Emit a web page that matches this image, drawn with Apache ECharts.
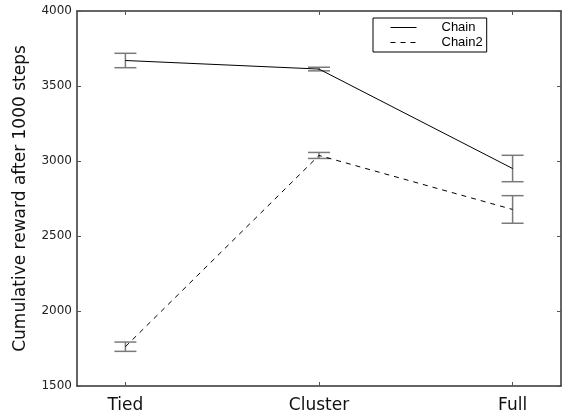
<!DOCTYPE html>
<html lang="en">
<head>
    <meta charset="UTF-8">
    <title>Cumulative reward</title>
    <script src="https://cdn.jsdelivr.net/npm/echarts@6/dist/echarts.min.js"></script>
    <style>
        html, body { margin: 0; padding: 0; background: #fff; }
    </style>
</head>
<body>
<div id="main" style="width: 564px;height:419px;"></div>
<script>
    // data
    var categories = ['Tied', 'Cluster', 'Full'];
    var chainMean = [3670, 3613, 2950];
    var chainErr = [48, 12, 88];
    var chain2Mean = [1762, 3037, 2677];
    var chain2Err = [31, 20, 92];

    var catPos = categories.map(function (c, i) { return i; });

    function pairs(means) {
        return means.map(function (v, i) { return [catPos[i], v]; });
    }
    function errData(means, errs) {
        return means.map(function (v, i) { return [catPos[i], v - errs[i], v + errs[i]]; });
    }

    // error bar drawn through the axes
    function renderErr(params, api) {
        var lo = api.coord([api.value(0), api.value(1)]);
        var hi = api.coord([api.value(0), api.value(2)]);
        var half = 11;
        var style = {stroke: '#7a7a7a', lineWidth: 1.5};
        return {
            type: 'group',
            children: [
                {type: 'line', shape: {x1: lo[0], y1: lo[1], x2: hi[0], y2: hi[1]}, style: style},
                {type: 'line', shape: {x1: lo[0] - half, y1: lo[1], x2: lo[0] + half, y2: lo[1]}, style: style},
                {type: 'line', shape: {x1: hi[0] - half, y1: hi[1], x2: hi[0] + half, y2: hi[1]}, style: style}
            ]
        };
    }

    var axisLine = {show: true, onZero: false, lineStyle: {color: '#333', width: 1.5}};
    var tick = {show: true, inside: true, length: 4, lineStyle: {color: '#555', width: 1}};
    var catTick = {show: true, inside: true, length: 4, customValues: catPos, lineStyle: {color: '#555', width: 1}};

    var myChart = echarts.init(document.getElementById('main'));
    var option = {
        animation: false,
        backgroundColor: '#fff',
        grid: {left: 77, right: 3, top: 11, bottom: 33},
        legend: {
            orient: 'vertical',
            left: 373,
            top: 18,
            padding: [3, 4, 3, 17],
            itemGap: 2,
            itemWidth: 26,
            itemHeight: 12,
            borderColor: '#000',
            borderWidth: 1,
            borderRadius: 0,
            backgroundColor: '#fff',
            data: ['Chain', 'Chain2'],
            itemStyle: {opacity: 0},
            lineStyle: {width: 1},
            textStyle: {fontFamily: 'Liberation Sans', fontSize: 13, color: '#000', padding: [0, 0, 0, 20]}
        },
        xAxis: [
            {
                type: 'value', min: -0.25, max: 2.25,
                axisLine: axisLine,
                axisTick: catTick,
                axisLabel: {
                    customValues: catPos,
                    margin: 11,
                    fontFamily: 'DejaVu Sans', fontSize: 17, color: '#111',
                    formatter: function (v) { return categories[Math.round(v)]; }
                },
                splitLine: {show: false}
            },
            {
                type: 'value', position: 'top', min: -0.25, max: 2.25,
                axisLine: axisLine,
                axisTick: catTick,
                axisLabel: {show: false},
                splitLine: {show: false}
            }
        ],
        yAxis: [
            {
                type: 'value', min: 1500, max: 4000, interval: 500,
                name: 'Cumulative reward after 1000 steps',
                nameLocation: 'middle',
                nameGap: 48,
                nameTextStyle: {fontFamily: 'DejaVu Sans', fontSize: 17, color: '#111'},
                axisLine: axisLine,
                axisTick: tick,
                axisLabel: {
                    margin: 5, fontFamily: 'DejaVu Sans', fontSize: 12, color: '#222',
                    formatter: function (v) { return String(v); }
                },
                splitLine: {show: false}
            },
            {
                type: 'value', position: 'right', min: 1500, max: 4000, interval: 500,
                axisLine: axisLine,
                axisTick: tick,
                axisLabel: {show: false},
                splitLine: {show: false}
            }
        ],
        series: [
            {
                name: 'Chain', type: 'line', data: pairs(chainMean),
                symbol: 'none', color: '#000',
                lineStyle: {color: '#000', width: 1, type: 'solid'}, z: 3
            },
            {
                name: 'Chain2', type: 'line', data: pairs(chain2Mean),
                symbol: 'none', color: '#000',
                lineStyle: {color: '#000', width: 1, type: [5, 5]}, z: 3
            },
            {type: 'custom', renderItem: renderErr, data: errData(chainMean, chainErr), z: 2, silent: true},
            {type: 'custom', renderItem: renderErr, data: errData(chain2Mean, chain2Err), z: 2, silent: true}
        ]
    };
    myChart.setOption(option);
</script>
</body>
</html>
